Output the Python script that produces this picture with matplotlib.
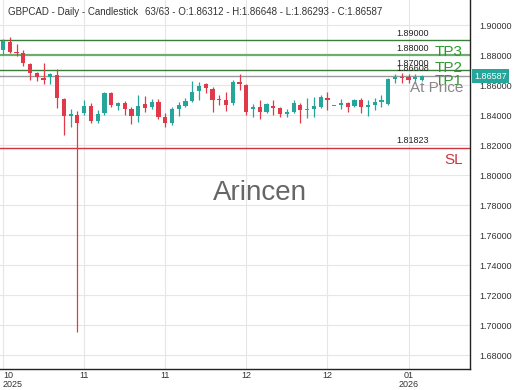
import matplotlib
matplotlib.use("Agg")
import matplotlib.pyplot as plt
import matplotlib.transforms as mtransforms

plt.rcParams['font.family'] = ['Liberation Sans', 'DejaVu Sans']

# ---- data ----
opens = [1.88333, 1.88887, 1.88200, 1.88113, 1.87400, 1.86820, 1.86467, 1.86513, 1.86667, 1.85100,
         1.83967, 1.84000, 1.84113, 1.84600, 1.83633, 1.84113, 1.85487, 1.84600, 1.84820, 1.84380,
         1.83933, 1.84713, 1.84553, 1.84887, 1.83847, 1.83447, 1.84380, 1.84600, 1.84953, 1.85620,
         1.86047, 1.85713, 1.85020, 1.85000, 1.84780, 1.86220, 1.86000, 1.84400, 1.84553, 1.84220,
         1.84620, 1.84487, 1.84067, 1.84220, 1.84667, 1.84333, 1.84380, 1.84513, 1.85113, 1.84590,
         1.84667, 1.84780, 1.84600, 1.85000, 1.84553, 1.84667, 1.84887, 1.84733, 1.86380, 1.86553,
         1.86553, 1.86380, 1.86312]
closes = [1.88953, 1.88220, 1.88153, 1.87447, 1.86780, 1.86533, 1.86333, 1.86713, 1.85113, 1.83933,
          1.84020, 1.83487, 1.84600, 1.83600, 1.84053, 1.85447, 1.84667, 1.84820, 1.84380, 1.83933,
          1.84600, 1.84487, 1.84887, 1.83887, 1.83447, 1.84380, 1.84667, 1.84953, 1.85553, 1.85953,
          1.85780, 1.85000, 1.84980, 1.84667, 1.86220, 1.86067, 1.84220, 1.84553, 1.84220, 1.84713,
          1.84487, 1.84067, 1.84220, 1.84780, 1.84333, 1.84380, 1.84600, 1.85220, 1.85000, 1.84610,
          1.84780, 1.84513, 1.85000, 1.84513, 1.84667, 1.84887, 1.85000, 1.86380, 1.86553, 1.86467,
          1.86333, 1.86553, 1.86587]
highs = [1.89047, 1.89180, 1.88733, 1.88333, 1.87467, 1.86887, 1.87467, 1.86820, 1.87047, 1.85167,
         1.84400, 1.84287, 1.85033, 1.84820, 1.84333, 1.85553, 1.85553, 1.84887, 1.84953, 1.84553,
         1.85333, 1.85267, 1.85047, 1.85047, 1.84113, 1.84553, 1.84887, 1.85113, 1.86287, 1.86220,
         1.86113, 1.85887, 1.85333, 1.85553, 1.86333, 1.86733, 1.86067, 1.84733, 1.85000, 1.84820,
         1.85000, 1.84553, 1.84380, 1.85000, 1.84820, 1.85113, 1.85220, 1.85333, 1.85553, 1.84620,
         1.85047, 1.84887, 1.85047, 1.85113, 1.85000, 1.85113, 1.85333, 1.86447, 1.86733, 1.86780,
         1.86733, 1.86733, 1.86648]
lows = [1.88000, 1.88113, 1.87933, 1.87300, 1.86333, 1.86300, 1.86067, 1.86067, 1.84447, 1.82667,
        1.83200, 1.69550, 1.84000, 1.83447, 1.83447, 1.84000, 1.84553, 1.84333, 1.84000, 1.83400,
        1.83553, 1.84220, 1.84380, 1.83713, 1.83220, 1.83333, 1.83933, 1.84513, 1.84887, 1.85000,
        1.85447, 1.84220, 1.84667, 1.84287, 1.84667, 1.85667, 1.84000, 1.83887, 1.83713, 1.84113,
        1.84000, 1.83887, 1.83847, 1.84113, 1.83487, 1.83780, 1.83847, 1.84447, 1.84333, 1.84580,
        1.84380, 1.84220, 1.84513, 1.84153, 1.83933, 1.84333, 1.84553, 1.84667, 1.86113, 1.86113,
        1.86113, 1.86153, 1.86293]

x_tick_pos = [0, 12, 24, 36, 48, 60]
x_tick_labels = ["10\n2025", "11", "11", "12", "12", "01\n2026"]
y_ticks = [1.68, 1.70, 1.72, 1.74, 1.76, 1.78, 1.80, 1.82, 1.84, 1.86, 1.88, 1.90]

tp_levels = [1.89, 1.88, 1.87]
at_price = 1.86608
sl_level = 1.81823
last_price = 1.86587

title_left = "GBPCAD - Daily - Candlestick"
title_right = "63/63 - O:1.86312 - H:1.86648 - L:1.86293 - C:1.86587"

# ---- figure ----
GREEN = '#26a69a'
RED = '#e0394a'

fig = plt.figure(figsize=(5.2, 3.9), dpi=100)
ax = fig.add_axes([0.0, 1 - 369 / 390, 470 / 520, 369 / 390])

n = len(opens)
idx = list(range(n))
cols = [GREEN if c >= o else RED for o, c in zip(opens, closes)]
bottoms = [min(o, c) for o, c in zip(opens, closes)]
heights = [max(abs(c - o), 0.0007) for o, c in zip(opens, closes)]

ax.vlines(idx, lows, highs, colors=cols, linewidth=0.9, zorder=3)
ax.bar(idx, heights, bottom=bottoms, width=0.62, color=cols, zorder=4, linewidth=0)

ax.set_xlim(-0.45, 69.1)
ax.set_ylim(1.67067, 1.91667)

ax.set_yticks(y_ticks)
ax.set_yticklabels([f"{v:.5f}" for v in y_ticks])
ax.yaxis.tick_right()
ax.set_xticks(x_tick_pos)
ax.set_xticklabels(x_tick_labels, linespacing=0.95)
ax.tick_params(axis='y', length=0, pad=7, labelsize=6.5, colors='#333333')
ax.tick_params(axis='x', length=0, pad=1.5, labelsize=6.5, colors='#333333')
ax.get_xticklabels()[0].set_ha('left')

ax.grid(True, color='#e6e6e6', linewidth=0.8, zorder=0)
for s in ['left', 'top']:
    ax.spines[s].set_visible(False)
ax.spines['right'].set_color('#222222')
ax.spines['bottom'].set_color('#222222')
ax.spines['right'].set_linewidth(1.0)
ax.spines['bottom'].set_linewidth(1.0)

# partially visible top label
trans_r = mtransforms.blended_transform_factory(ax.transAxes, ax.transData)
ax.text(1.0 + 10 / 470, 1.92, "1.92000", transform=trans_r, fontsize=6.5,
        color='#333333', ha='left', va='center', clip_on=False)

# level lines
line_cols = ['#3b7d3b', '#6cae6c', '#3b7d3b']
line_lws = [1.0, 1.6, 1.0]
for lv, lc, lw in zip(tp_levels, line_cols, line_lws):
    ax.axhline(lv, color=lc, linewidth=lw, zorder=2)
ax.axhline(at_price, color='#999999', linewidth=1.0, zorder=2)
ax.axhline(sl_level, color='#d0333f', linewidth=1.0, zorder=2)

xl = 429 / 470
for lv in tp_levels + [at_price, sl_level]:
    ax.annotate(f"{lv:.5f}", xy=(xl, lv), xycoords=trans_r, xytext=(0, 5),
                textcoords='offset points', ha='right', va='center',
                fontsize=6.5, color='#222222', zorder=6)

xr = 463 / 470
tp_green = '#2e9a2e'
ax.annotate("TP3", xy=(xr, tp_levels[1]), xycoords=trans_r, xytext=(0, 2),
            textcoords='offset points', ha='right', va='center', fontsize=11, color=tp_green, zorder=6)
ax.annotate("TP2", xy=(xr, tp_levels[2]), xycoords=trans_r, xytext=(0, 1.5),
            textcoords='offset points', ha='right', va='center', fontsize=11, color=tp_green, zorder=6)
ax.annotate("TP1", xy=(xr, at_price), xycoords=trans_r, xytext=(0, -3.6),
            textcoords='offset points', ha='right', va='center', fontsize=11, color=tp_green, zorder=6)
ax.annotate("At Price", xy=(xr, at_price), xycoords=trans_r, xytext=(0, -8.8),
            textcoords='offset points', ha='right', va='center', fontsize=11, color='#888888', zorder=6)
ax.annotate("SL", xy=(xr, sl_level), xycoords=trans_r, xytext=(0, -8.8),
            textcoords='offset points', ha='right', va='center', fontsize=11, color='#d0333f', zorder=6)

# current price tag
ax.text(1.0 + 4 / 470, last_price, f"{last_price:.5f}", transform=trans_r, fontsize=6.5,
        color='white', ha='left', va='center', clip_on=False, zorder=7,
        bbox=dict(boxstyle='square,pad=0.25', facecolor='#26a69a', edgecolor='none'))

# watermark
ax.text(0.553, 0.477, "Arincen", transform=ax.transAxes, fontsize=20, color='#666666',
        ha='center', va='center', zorder=1)

# title
fig.text(8 / 520, 1 - 12 / 390, title_left, fontsize=7, color='#333333', ha='left', va='center')
fig.text(145 / 520, 1 - 12 / 390, title_right, fontsize=7, color='#333333', ha='left', va='center')

fig.savefig("out.png", dpi=100, facecolor='white')
